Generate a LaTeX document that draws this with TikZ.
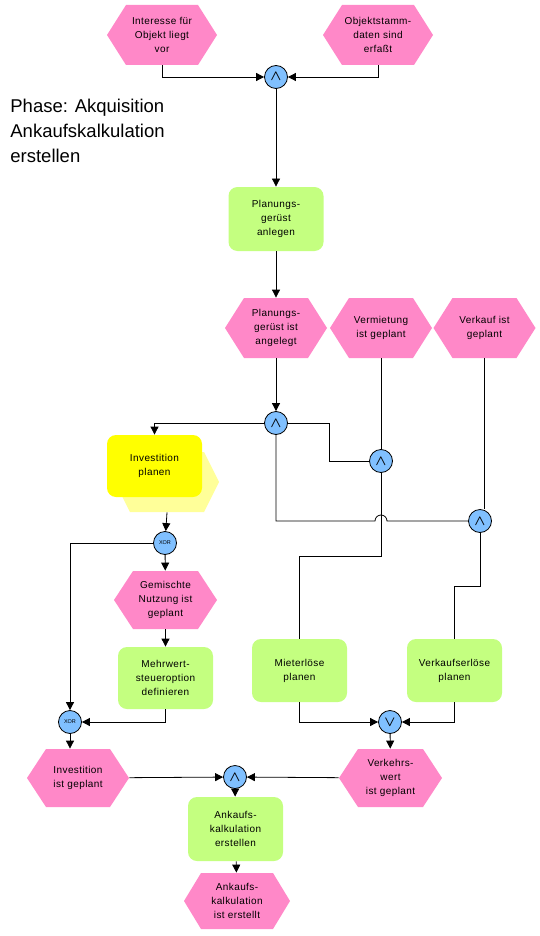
\documentclass[tikz,border=0pt]{standalone}
\usepackage{fontspec}
\setmainfont{Liberation Sans}
\newfontfamily\nodefont[LetterSpace=4]{Liberation Sans}
\usetikzlibrary{arrows.meta}
\definecolor{evpink}{HTML}{FF88C8}
\definecolor{fngreen}{HTML}{C4FF80}
\definecolor{gateblue}{HTML}{80C0FF}
\definecolor{ifyellow}{HTML}{FFFF00}
\definecolor{ifshadow}{HTML}{FFFF99}
\tikzset{
  hexpt/.store in=\hexpt, hexpt=19pt,
  event/.style={minimum width=102pt, minimum height=60pt, inner sep=0pt,
    align=center, font=\nodefont\fontsize{10}{14}\selectfont,
    path picture={\fill[#1]
      (path picture bounding box.west)
      -- ([xshift=\hexpt]path picture bounding box.north west)
      -- ([xshift=-\hexpt]path picture bounding box.north east)
      -- (path picture bounding box.east)
      -- ([xshift=-\hexpt]path picture bounding box.south east)
      -- ([xshift=\hexpt]path picture bounding box.south west) -- cycle;}},
  event/.default=evpink,
  func/.style={fill=#1, rounded corners=9pt, minimum width=95pt,
    minimum height=63pt, inner sep=0pt, align=center,
    font=\nodefont\fontsize{10}{14}\selectfont},
  func/.default=fngreen,
  gate/.style={circle, draw, fill=gateblue, minimum size=23pt, inner sep=0pt,
    font=\fontsize{14}{14}\selectfont\boldmath},
  xorlbl/.style={font=\fontsize{5.5}{5.5}\selectfont}
}
\begin{document}
\begin{tikzpicture}[x=1pt, y=-1pt, line width=0.8pt,
    >={Triangle[length=8pt,width=8pt]}]
  \useasboundingbox[fill=white] (0,0) rectangle (540,936);
  % title
  \node[anchor=north west, align=left, inner sep=0pt,
    font=\fontsize{18.5}{25}\selectfont] (phase) at (10,99)
    {Phase: Akquisition\\Ankaufskalkulation\\erstellen};
  % start events
  \node[event, minimum width=110pt] (e1) at (162,35) {Interesse für\\Objekt liegt\\vor};
  \node[event, minimum width=110pt] (e2) at (378,35) {Objektstamm-\\daten sind\\erfaßt};
  \node[gate] (and1) at (276,77) {$\wedge$};
  \node[func, minimum height=64pt] (f1) at (276,219) {Planungs-\\gerüst\\anlegen};
  % middle row of events
  \node[event] (e3) at (276,328) {Planungs-\\gerüst ist\\angelegt};
  \node[event] (e4) at (381,328) {Vermietung\\ist geplant};
  \node[event] (e5) at (484.5,328) {Verkauf ist\\geplant};
  \node[gate] (and2) at (276,423) {$\wedge$};
  \node[gate] (and3) at (381,461) {$\wedge$};
  \node[gate] (and5) at (480,521) {$\wedge$};
  % investment branch
  \node[event=ifshadow, minimum width=104pt, hexpt=15pt] (invsh) at (167,482) {};
  \node[func=ifyellow, minimum height=62pt] (inv) at (154.5,466) {Investition\\planen};
  \node[gate] (xor1) at (165,543) {};
  \node[xorlbl] at (xor1) {XOR};
  \node[event, minimum width=103pt, minimum height=58pt] (e6) at (165.5,600) {Gemischte\\Nutzung ist\\geplant};
  \node[func, minimum height=62pt] (f3) at (165.5,678) {Mehrwert-\\steueroption\\definieren};
  \node[gate] (xor2) at (70,722) {};
  \node[xorlbl] at (xor2) {XOR};
  \node[event, minimum height=58pt] (e7) at (78,778) {Investition\\ist geplant};
  % revenue branch
  \node[func] (f5) at (299.5,670.5) {Mieterlöse\\planen};
  \node[func] (f6) at (454.5,670.5) {Verkaufserlöse\\planen};
  \node[gate] (or1) at (390,722) {$\vee$};
  \node[event, minimum width=103pt, minimum height=58pt] (e8) at (390.5,778) {Verkehrs-\\wert\\ist geplant};
  % result
  \node[gate] (and4) at (235,777) {$\wedge$};
  \node[func, minimum height=64pt] (f4) at (235.5,829) {Ankaufs-\\kalkulation\\erstellen};
  \node[event, minimum width=106pt, minimum height=56pt, hexpt=17pt] (e9) at (237,901) {Ankaufs-\\kalkulation\\ist erstellt};

  % connectors
  \draw[->] (e1) |- (and1);
  \draw[->] (e2) |- (and1);
  \draw[->] (and1) -- (f1);
  \draw[->] (f1) -- (e3);
  \draw[->] (e3) -- (and2);
  \draw[->] (and2) -| (inv);
  \draw (and2.east) -- ++(41,0) |- (and3);
  \draw (e4) -- (and3);
  \draw (and2) |- ([xshift=-6pt]and3 |- and5)
    arc[start angle=180, end angle=0, radius=6pt] -- (and5);
  \draw (e5.south) -- (e5.south |- and5.north);
  \draw (and3) -- ++(0,95) -| (f5);
  \draw (and5) -- ++(0,65) -| (f6);
  \draw[->] (invsh.south) -- (xor1);
  \draw[->] (xor1) -| (xor2);
  \draw[->] (xor1) -- (e6);
  \draw[->] (e6) -- (f3);
  \draw[->] (f3) |- (xor2);
  \draw[->] (xor2.south) -- (xor2.south |- e7.north);
  \draw[->] (f5) |- (or1);
  \draw[->] (f6) |- (or1);
  \draw[->] (or1) -- (e8);
  \draw[->] (e7) -- (and4);
  \draw[->] (e8) -- (and4);
  \draw[->] (and4) -- (f4);
  \draw[->] (f4) -- (e9);
\end{tikzpicture}
\end{document}
